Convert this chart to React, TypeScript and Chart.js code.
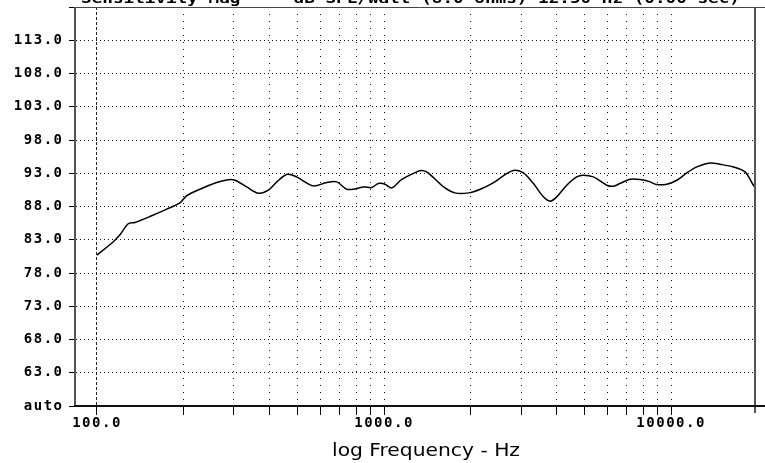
import { useEffect, useRef } from 'react';
import { Chart, registerables } from 'chart.js';

Chart.register(...registerables);

const freqHz = [100, 114, 120, 128.5, 135.6, 155, 175, 195, 205, 228.5, 261, 283, 302.6, 332, 365, 395, 423, 460, 496, 567, 631, 684, 741, 803, 847, 906, 955, 1008, 1064, 1150, 1300, 1350, 1420, 1612, 1765, 1970, 2164, 2400, 2675, 2860, 3060, 3315, 3590, 3790, 3997, 4330, 4690, 4940, 5360, 5970, 6295, 6630, 7190, 7800, 8450, 8900, 9655, 10470, 11340, 12290, 13670, 14815, 16480, 18100, 19350, 19600];
const splDb = [80.7, 82.7, 83.7, 85.4, 85.6, 86.6, 87.6, 88.6, 89.6, 90.6, 91.6, 92.0, 91.95, 90.95, 90.0, 90.45, 91.7, 92.85, 92.45, 91.1, 91.6, 91.7, 90.6, 90.7, 90.95, 90.85, 91.45, 91.35, 90.8, 92.05, 93.2, 93.4, 93.1, 90.95, 90.05, 90.05, 90.6, 91.55, 92.95, 93.45, 93.05, 91.45, 89.45, 88.8, 89.45, 91.2, 92.45, 92.7, 92.45, 91.2, 91.05, 91.45, 92.1, 92.05, 91.7, 91.3, 91.35, 91.95, 93.05, 93.95, 94.55, 94.35, 93.95, 93.2, 91.2, 90.9];

const yTickValues = [58, 63, 68, 73, 78, 83, 88, 93, 98, 103, 108, 113, 118];
const xTickValues = [100, 200, 300, 400, 500, 600, 700, 800, 900, 1000, 2000, 3000, 4000, 5000, 6000, 7000, 8000, 9000, 10000];
const xLabeledTicks = [100, 1000, 10000];
const xMin = 84.5;
const xMax = 19600;
const yMin = 58;
const yMax = 118;

const chartTitle = 'Sensitivity Mag  -  dB SPL/watt (8.0 ohms) 12.50 Hz (0.00 sec)';
const xAxisTitle = 'log Frequency - Hz';

function drawFitted(ctx: CanvasRenderingContext2D, text: string, font: string, x0: number, x1: number, y: number, baseline: CanvasTextBaseline) {
  ctx.save();
  ctx.font = font;
  const w = ctx.measureText(text).width;
  ctx.translate(x0, y);
  ctx.scale((x1 - x0) / w, 1);
  ctx.textAlign = 'left';
  ctx.textBaseline = baseline;
  ctx.fillStyle = '#000';
  ctx.fillText(text, 0, 0);
  ctx.restore();
}

export default function App() {
  const ref = useRef<HTMLCanvasElement>(null);

  useEffect(() => {
    const canvas = ref.current;
    if (!canvas) return;
    const tickFont = { family: '"DejaVu Sans Mono", monospace', size: 14, weight: 'bold' as const };

    const framePlugin = {
      id: 'framePlugin',
      beforeDraw(chart: any) {
        chart.ctx.letterSpacing = '1.5px';
      },
      afterDraw(chart: any) {
        const ctx = chart.ctx as CanvasRenderingContext2D;
        const a = chart.chartArea;
        ctx.save();
        (ctx as any).letterSpacing = '0px';
        ctx.setLineDash([]);
        // top
        ctx.strokeStyle = '#444';
        ctx.lineWidth = 1;
        ctx.beginPath();
        ctx.moveTo(a.left - 2, a.top + 0.5);
        ctx.lineTo(chart.width, a.top + 0.5);
        ctx.stroke();
        // left
        ctx.strokeStyle = '#555';
        ctx.lineWidth = 2;
        ctx.beginPath();
        ctx.moveTo(a.left - 1, a.top);
        ctx.lineTo(a.left - 1, a.bottom + 1);
        ctx.stroke();
        // right
        ctx.beginPath();
        ctx.moveTo(a.right, a.top);
        ctx.lineTo(a.right, a.bottom + 7);
        ctx.stroke();
        // bottom
        ctx.strokeStyle = '#111';
        ctx.beginPath();
        ctx.moveTo(a.left - 2, a.bottom);
        ctx.lineTo(chart.width, a.bottom);
        ctx.stroke();
        drawFitted(ctx, chartTitle, 'bold 14px "DejaVu Sans Mono"', 81, 740, 3, 'alphabetic');
        drawFitted(ctx, xAxisTitle, '17px "DejaVu Sans"', 332, 520, 452, 'middle');
        ctx.restore();
      },
    };

    const chart = new Chart(canvas, {
      type: 'line',
      data: {
        datasets: [
          {
            data: freqHz.map((f, i) => ({ x: f, y: splDb[i] })),
            borderColor: '#000',
            borderWidth: 1.5,
            pointRadius: 0,
            tension: 0.3,
            fill: false,
          },
        ],
      },
      options: {
        animation: false,
        responsive: false,
        devicePixelRatio: 1,
        layout: { padding: { top: 7, right: 10, left: 0, bottom: 0 } },
        plugins: {
          legend: { display: false },
          tooltip: { enabled: false },
          title: { display: false },
        },
        scales: {
          x: {
            type: 'logarithmic',
            min: xMin,
            max: xMax,
            afterBuildTicks: (s: any) => {
              s.ticks = xTickValues.map((v) => ({ value: v }));
            },
            afterFit: (s: any) => {
              s.height = 57;
              s.paddingLeft = 0;
              s.paddingRight = 0;
            },
            ticks: {
              autoSkip: false,
              maxRotation: 0,
              minRotation: 0,
              padding: 0,
              color: '#000',
              font: tickFont,
              callback: (v: any) => (xLabeledTicks.includes(Number(v)) ? Number(v).toFixed(1) : ''),
            },
            grid: {
              color: (c: any) => (c.tick && c.tick.value === 100 ? '#222' : '#111'),
              lineWidth: 1,
              tickLength: 9,
              tickColor: '#000',
              tickWidth: 1,
            },
            border: {
              display: false,
              dash: (c: any) => (c.tick && c.tick.value === 100 ? [3, 2] : [1, 6]),
            },
          },
          y: {
            type: 'linear',
            min: yMin,
            max: yMax,
            afterBuildTicks: (s: any) => {
              s.ticks = yTickValues.map((v) => ({ value: v }));
            },
            afterFit: (s: any) => {
              s.width = 76;
              s.paddingTop = 0;
              s.paddingBottom = 0;
            },
            ticks: {
              autoSkip: false,
              padding: 5.5,
              color: '#000',
              font: tickFont,
              callback: (v: any) => {
                const n = Number(v);
                if (n === yMin) return 'auto';
                if (n === yMax) return '';
                return n.toFixed(1);
              },
            },
            grid: {
              color: '#111',
              lineWidth: 1,
              tickLength: 7,
              tickColor: '#000',
              tickWidth: 1,
            },
            border: {
              display: false,
              dash: [1, 3],
            },
          },
        },
      },
      plugins: [framePlugin],
    } as any);

    return () => {
      chart.destroy();
    };
  }, []);

  return (
    <div style={{ position: 'absolute', left: 0, top: 0, width: 765, height: 463, background: '#fff' }}>
      <canvas ref={ref} width={765} height={463} style={{ display: 'block', width: 765, height: 463 }} />
    </div>
  );
}
